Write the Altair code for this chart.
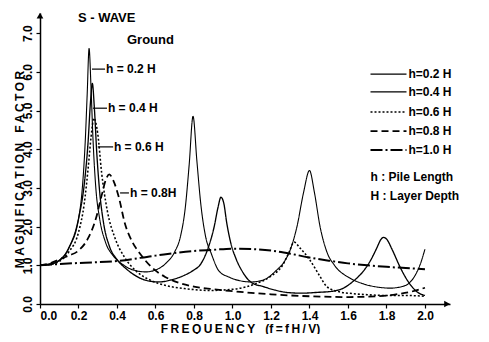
import altair as alt
import pandas as pd

series_names = ["h=0.2 H", "h=0.4 H", "h=0.6 H", "h=0.8 H", "h=1.0 H"]

# h = 0.2 H (thin solid)
f_02 = [0.00, 0.05, 0.10, 0.15, 0.20, 0.22, 0.235, 0.245, 0.255, 0.265, 0.275, 0.29, 0.31, 0.34, 0.38, 0.43,
        0.49, 0.55, 0.61, 0.66, 0.70, 0.73, 0.755, 0.775, 0.795, 0.815, 0.835, 0.86, 0.89, 0.93, 0.98, 1.04,
        1.10, 1.16, 1.23, 1.27, 1.30, 1.335, 1.37, 1.40, 1.425, 1.455, 1.49, 1.53, 1.61, 1.68, 1.75, 1.82,
        1.88, 1.92, 1.95, 1.975, 2.00]
m_02 = [1.00, 1.03, 1.12, 1.45, 2.20, 3.00, 4.20, 5.40, 6.60, 5.60, 4.30, 3.00, 2.20, 1.60, 1.25, 1.02,
        0.87, 0.83, 0.90, 1.08, 1.35, 1.75, 2.50, 3.60, 4.85, 3.70, 2.60, 1.75, 1.30, 0.85, 0.70, 0.60,
        0.57, 0.62, 0.88, 1.10, 1.40, 2.00, 2.90, 3.45, 2.90, 2.00, 1.35, 1.00, 0.67, 0.52, 0.44, 0.41,
        0.45, 0.55, 0.75, 1.02, 1.42]

# h = 0.4 H (thick solid)
f_04 = [0.00, 0.05, 0.10, 0.15, 0.20, 0.23, 0.25, 0.262, 0.272, 0.282, 0.295, 0.31, 0.33, 0.36, 0.40, 0.45,
        0.50, 0.56, 0.62, 0.68, 0.74, 0.80, 0.83, 0.87, 0.905, 0.925, 0.94, 0.955, 0.97, 0.99, 1.02, 1.05,
        1.10, 1.16, 1.22, 1.30, 1.36, 1.44, 1.52, 1.58, 1.63, 1.68, 1.72, 1.75, 1.77, 1.785, 1.80, 1.83,
        1.87, 1.91, 1.96, 2.00]
m_04 = [1.00, 1.03, 1.13, 1.45, 2.20, 3.10, 4.20, 5.20, 5.70, 5.10, 3.90, 2.90, 2.10, 1.50, 1.15, 0.90,
        0.72, 0.60, 0.57, 0.62, 0.72, 0.88, 1.00, 1.40, 2.00, 2.50, 2.76, 2.60, 2.10, 1.60, 1.15, 0.85,
        0.55, 0.45, 0.36, 0.29, 0.28, 0.30, 0.33, 0.42, 0.60, 0.85, 1.15, 1.45, 1.66, 1.72, 1.68, 1.40,
        0.96, 0.60, 0.31, 0.22]

# h = 0.6 H (dotted)
f_06 = [0.00, 0.05, 0.10, 0.15, 0.20, 0.23, 0.25, 0.265, 0.28, 0.30, 0.32, 0.35, 0.39, 0.44, 0.50, 0.58,
        0.66, 0.75, 0.88, 1.00, 1.07, 1.13, 1.20, 1.26, 1.295, 1.32, 1.35, 1.40, 1.45, 1.49, 1.55, 1.62,
        1.70, 1.80, 1.90, 2.00]
m_06 = [1.00, 1.02, 1.10, 1.35, 1.85, 2.60, 3.50, 4.30, 4.80, 4.40, 3.40, 2.40, 1.70, 1.20, 0.85, 0.60,
        0.47, 0.40, 0.35, 0.38, 0.44, 0.54, 0.72, 1.00, 1.35, 1.60, 1.45, 1.15, 0.75, 0.45, 0.32, 0.27,
        0.24, 0.22, 0.22, 0.20]

# h = 0.8 H (dashed)
f_08 = [0.00, 0.05, 0.10, 0.15, 0.20, 0.25, 0.29, 0.32, 0.345, 0.36, 0.38, 0.41, 0.44, 0.48, 0.52, 0.58,
        0.65, 0.72, 0.80, 0.90, 1.00, 1.20, 1.40, 1.60, 1.75, 1.85, 1.93, 2.00]
m_08 = [1.00, 1.05, 1.15, 1.25, 1.38, 1.70, 2.20, 2.80, 3.25, 3.35, 3.20, 2.75, 2.10, 1.60, 1.30, 0.95,
        0.70, 0.55, 0.45, 0.38, 0.33, 0.25, 0.20, 0.18, 0.20, 0.25, 0.32, 0.42]

# h = 1.0 H (long dash - dot)
f_10 = [0.00, 0.20, 0.40, 0.60, 0.80, 0.90, 1.00, 1.10, 1.20, 1.30, 1.40, 1.50, 1.60, 1.70, 1.80, 1.90, 2.00]
m_10 = [1.00, 1.06, 1.11, 1.25, 1.37, 1.40, 1.43, 1.42, 1.38, 1.30, 1.20, 1.12, 1.05, 1.00, 0.96, 0.93, 0.90]

x_ticks = [0.0, 0.2, 0.4, 0.6, 0.8, 1.0, 1.2, 1.4, 1.6, 1.8, 2.0]
y_ticks = [0, 1, 2, 3, 4, 5, 6, 7]

rows = []
for name, fs, ms in zip(series_names, [f_02, f_04, f_06, f_08, f_10], [m_02, m_04, m_06, m_08, m_10]):
    for a, b in zip(fs, ms):
        rows.append({"series": name, "f": a, "M": b})
df = pd.DataFrame(rows)

dash_range = [[1, 0], [1, 0], [2, 2], [7, 4], [12, 3, 2, 3]]
width_range = [1.1, 2.0, 1.1, 1.4, 1.5]

FONT = "Liberation Sans"
sp = "\u2009"
nb = "\u00a0"
x_title = sp.join("FREQUENCY") + nb * 3 + "(" + sp.join("f=fH/V") + ")"
y_title = sp.join("MAGNIFICATION") + nb * 3 + sp.join("FACTOR")

xscale = alt.Scale(domain=[0, 2.13], nice=False, zero=False)
yscale = alt.Scale(domain=[0, 7.52], nice=False, zero=False)
dash_scale = alt.Scale(domain=series_names, range=dash_range)
width_scale = alt.Scale(domain=series_names, range=width_range)

lines = alt.Chart(df).mark_line(color="black", interpolate="monotone").encode(
    x=alt.X("f:Q", scale=xscale,
            axis=alt.Axis(values=x_ticks, format=".1f", title=x_title, titleX=200, titleY=28,
                          titleAlign="center", titleBaseline="alphabetic")),
    y=alt.Y("M:Q", scale=yscale,
            axis=alt.Axis(values=y_ticks, format=".1f", title=y_title, labelAngle=270,
                          labelAlign="center", labelBaseline="bottom", titleAngle=270,
                          titleX=-21, titleY=156, titleAlign="center", titleBaseline="middle")),
    detail="series:N",
    strokeDash=alt.StrokeDash("series:N", scale=dash_scale, legend=None),
    strokeWidth=alt.StrokeWidth("series:N", scale=width_scale, legend=None),
)

# annotations
ann_text = ["S - WAVE", "Ground", "h = 0.2 H", "h = 0.4 H", "h = 0.6 H", "h = 0.8H"]
ann_f = [0.197, 0.452, 0.343, 0.353, 0.384, 0.468]
ann_m = [7.40, 6.82, 6.07, 5.06, 4.06, 2.87]
ann_size = [13, 13, 12, 12, 12, 12]
ann = pd.DataFrame({"t": ann_text, "f": ann_f, "M": ann_m, "s": ann_size})
texts = alt.Chart(ann).mark_text(align="left", baseline="middle", font=FONT, fontWeight="bold",
                                 color="black").encode(
    x=alt.X("f:Q", scale=xscale), y=alt.Y("M:Q", scale=yscale), text="t:N",
    size=alt.Size("s:Q", scale=None, legend=None))

lead_f1 = [0.270, 0.275, 0.300, 0.416]
lead_f2 = [0.338, 0.348, 0.380, 0.462]
lead_m = [6.07, 5.06, 4.06, 2.87]
leads = alt.Chart(pd.DataFrame({"f": lead_f1, "f2": lead_f2, "M": lead_m})).mark_rule(
    color="black", strokeWidth=1.2).encode(
    x=alt.X("f:Q", scale=xscale), x2="f2:Q", y=alt.Y("M:Q", scale=yscale))

# manual legend
leg_m = [5.94, 5.48, 4.96, 4.47, 3.98]
leg = pd.DataFrame({"series": series_names, "f": [1.717] * 5, "f2": [1.904] * 5, "M": leg_m,
                    "ft": [1.914] * 5})
leg_lines = alt.Chart(leg).mark_rule(color="black").encode(
    x=alt.X("f:Q", scale=xscale), x2="f2:Q", y=alt.Y("M:Q", scale=yscale),
    strokeDash=alt.StrokeDash("series:N", scale=dash_scale, legend=None),
    strokeWidth=alt.StrokeWidth("series:N", scale=width_scale, legend=None))
leg_text = alt.Chart(leg).mark_text(align="left", baseline="middle", font=FONT, fontWeight="bold",
                                    fontSize=12, color="black").encode(
    x=alt.X("ft:Q", scale=xscale), y=alt.Y("M:Q", scale=yscale), text="series:N")

note = pd.DataFrame({"t": ["h : Pile Length", "H : Layer Depth"], "f": [1.717, 1.717], "M": [3.27, 2.79]})
notes = alt.Chart(note).mark_text(align="left", baseline="middle", font=FONT, fontWeight="bold",
                                  fontSize=12, color="black").encode(
    x=alt.X("f:Q", scale=xscale), y=alt.Y("M:Q", scale=yscale), text="t:N")

# axis arrowheads
arr_r = alt.Chart(pd.DataFrame({"f": [2.115], "M": [0.0]})).mark_point(
    shape="triangle-right", filled=True, color="black", size=45, opacity=1).encode(
    x=alt.X("f:Q", scale=xscale), y=alt.Y("M:Q", scale=yscale))
arr_u = alt.Chart(pd.DataFrame({"f": [0.0], "M": [7.45]})).mark_point(
    shape="triangle-up", filled=True, color="black", size=45, opacity=1).encode(
    x=alt.X("f:Q", scale=xscale), y=alt.Y("M:Q", scale=yscale))

chart = alt.layer(lines, texts, leads, leg_lines, leg_text, notes, arr_r, arr_u).properties(
    width=410, height=291,
    autosize=alt.AutoSizeParams(type="none"),
    padding={"left": 32, "top": 5, "right": 31, "bottom": 30},
    background="white",
).configure_view(stroke=None).configure_axis(
    grid=False, domainColor="black", domainWidth=1.5, tickColor="black", tickSize=4, tickWidth=1.2,
    labelFont=FONT, labelFontWeight="bold", labelFontSize=12, labelColor="black", labelPadding=2,
    titleFont=FONT, titleFontWeight="bold", titleFontSize=12, titleColor="black",
)

chart.save("out.html", embed_options={"renderer": "svg", "actions": False})
